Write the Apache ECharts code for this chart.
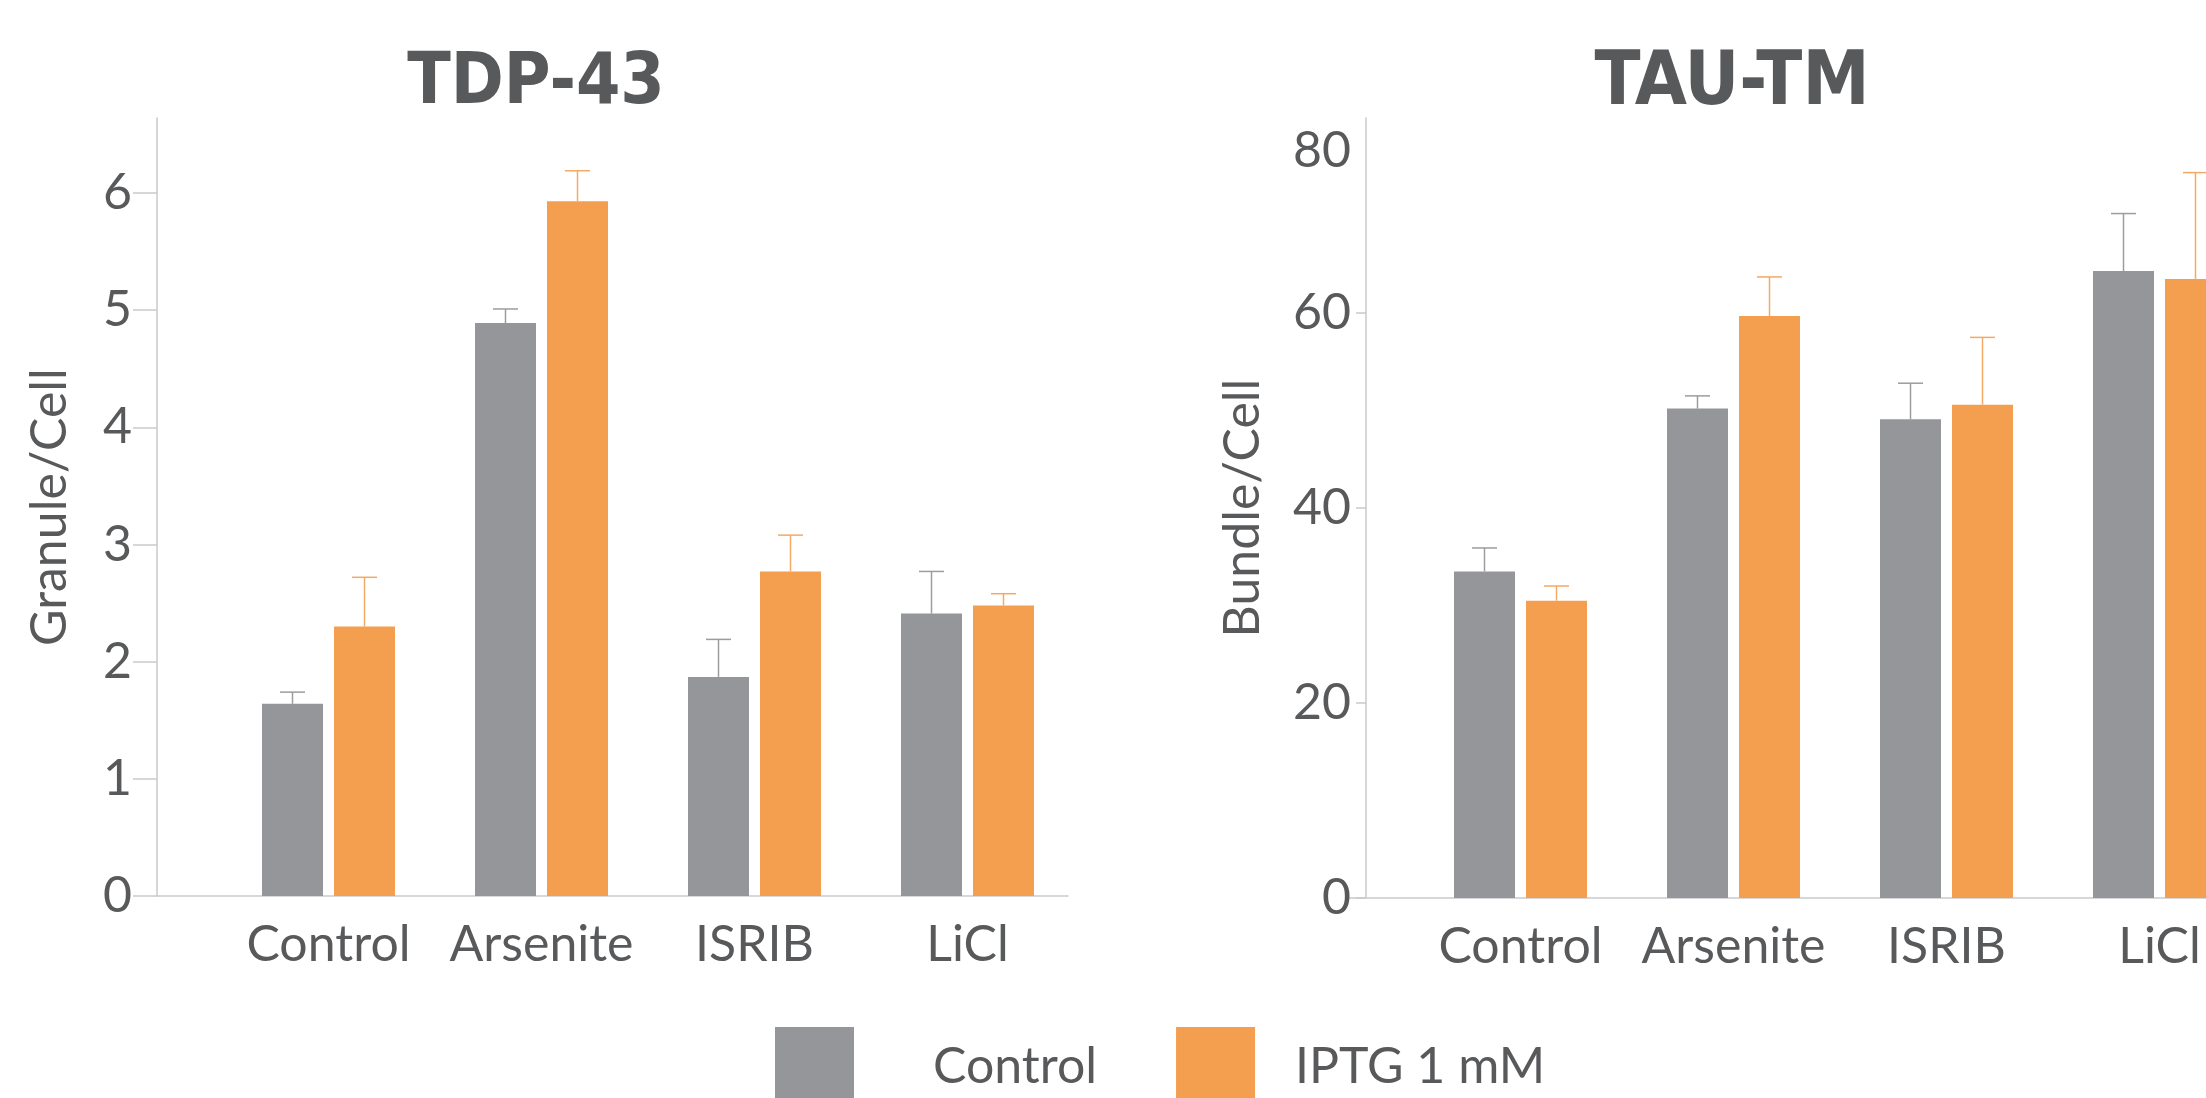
<!DOCTYPE html>
<html>
<head>
<meta charset="utf-8">
<title>TDP-43 / TAU-TM</title>
<script src="https://cdn.jsdelivr.net/npm/echarts@6/dist/echarts.min.js"></script>
<style>
	html, body { margin: 0; padding: 0; background: #fff; }
	#main { width: 2206px; height: 1098px; }
</style>
</head>
<body>
<div id="main"></div>
<script>
	// data
	var categories = ['Control', 'Arsenite', 'ISRIB', 'LiCl'];
	var groupNames = ['Control', 'IPTG 1 mM'];

	var tdpControl = [1.64, 4.89, 1.87, 2.41];
	var tdpControlErr = [0.10, 0.12, 0.32, 0.36];
	var tdpIptg = [2.30, 5.93, 2.77, 2.48];
	var tdpIptgErr = [0.42, 0.26, 0.31, 0.10];

	var tauControl = [33.5, 50.2, 49.1, 64.3];
	var tauControlErr = [2.4, 1.3, 3.7, 5.9];
	var tauIptg = [30.5, 59.7, 50.6, 63.5];
	var tauIptgErr = [1.5, 4.0, 6.9, 10.9];

	var tdpTicks = [0, 1, 2, 3, 4, 5, 6];
	var tauLabels = [0, 20, 40, 60, 80];
	var tauTicks = [0, 20, 40, 60];

	// styles
	var GRAY = '#959699', ORANGE = '#f49f50';
	var GRAY_ERR = '#9c9c9f', ORANGE_ERR = '#f4a866';
	var TEXT = '#58595b', AXIS = '#c9cacc';
	var FONT = 'Lato, "Open Sans", sans-serif';
	var TITLE_FONT = '"DejaVu Sans Condensed", "DejaVu Sans", sans-serif';
	var BAR_W = 61, BAR_GAP = 11, CAP = 25;

	function errorSeries(name, axisIdx, means, errs, side, color) {
		return {
			type: 'custom',
			name: name,
			xAxisIndex: axisIdx,
			yAxisIndex: axisIdx,
			silent: true,
			z: 3,
			encode: { x: 0, y: [1, 2] },
			data: means.map(function (m, i) { return [i, m, m + errs[i]]; }),
			renderItem: function (params, api) {
				var base = api.coord([api.value(0), api.value(1)]);
				var top = api.coord([api.value(0), api.value(2)]);
				var x = base[0] + side * (BAR_W + BAR_GAP) / 2;
				return {
					type: 'group',
					children: [
						{ type: 'line', shape: { x1: x, y1: base[1], x2: x, y2: top[1] }, style: { stroke: color, lineWidth: 1.5 } },
						{ type: 'line', shape: { x1: x - CAP / 2, y1: top[1], x2: x + CAP / 2, y2: top[1] }, style: { stroke: color, lineWidth: 1.5 } }
					]
				};
			}
		};
	}

	function barSeries(name, axisIdx, values, color) {
		return {
			type: 'bar',
			name: name,
			xAxisIndex: axisIdx,
			yAxisIndex: axisIdx,
			barWidth: BAR_W,
			barGap: (BAR_GAP / BAR_W * 100) + '%',
			itemStyle: { color: color },
			data: values
		};
	}

	function frameX(gridIdx) {
		return {
			gridIndex: gridIdx, type: 'value', min: 0, max: 1,
			axisLine: { show: true, onZero: false, lineStyle: { color: AXIS, width: 1.5 } },
			axisTick: { show: false }, axisLabel: { show: false }, splitLine: { show: false }
		};
	}

	function catX(gridIdx) {
		return {
			gridIndex: gridIdx, type: 'category', data: categories,
			axisLine: { show: false }, axisTick: { show: false },
			axisLabel: { margin: 24, fontSize: 50, color: TEXT, fontFamily: FONT, interval: 0 }
		};
	}

	function hiddenY(gridIdx, max) {
		return { gridIndex: gridIdx, type: 'value', min: 0, max: max, show: false };
	}

	var option = {
		animation: false,
		backgroundColor: '#fff',
		title: [{
			text: 'TDP-43', left: 536, top: 85, padding: 0,
			textAlign: 'center', textVerticalAlign: 'middle',
			textStyle: { fontSize: 71, fontWeight: 'bold', color: TEXT, fontFamily: TITLE_FONT }
		}, {
			text: 'TAU-TM', left: 1732, top: 85, padding: 0,
			textAlign: 'center', textVerticalAlign: 'middle',
			textStyle: { fontSize: 75, fontWeight: 'bold', color: TEXT, fontFamily: TITLE_FONT }
		}],
		legend: {
			data: groupNames,
			icon: 'rect',
			left: 775, top: 1027,
			itemWidth: 79, itemHeight: 79, itemGap: 79,
			padding: 0,
			selectedMode: false,
			formatter: function (name) {
				return name === groupNames[0] ? '{wide|' + name + '}' : '{near|' + name + '}';
			},
			textStyle: {
				fontSize: 50, color: TEXT, fontFamily: FONT,
				rich: {
					wide: { padding: [0, 0, 0, 74], fontSize: 50, color: TEXT, fontFamily: FONT },
					near: { padding: [0, 0, 0, 35], fontSize: 50, color: TEXT, fontFamily: FONT }
				}
			}
		},
		grid: [
			{ left: 157, top: 118, width: 911, height: 778, outerBoundsMode: 'none' },
			{ left: 222, top: 118, width: 852, height: 778, outerBoundsMode: 'none' },
			{ left: 1348, top: 118, right: 0, height: 780, outerBoundsMode: 'none' },
			{ left: 1414, top: 118, width: 852, height: 780, outerBoundsMode: 'none' }
		],
		xAxis: [frameX(0), catX(1), frameX(2), catX(3)],
		yAxis: [{
			gridIndex: 0, type: 'value', min: 0, max: 6.64,
			name: 'Granule/Cell', nameLocation: 'middle', nameGap: 107, nameRotate: 90,
			nameTextStyle: { fontSize: 50, color: TEXT, fontFamily: FONT, verticalAlign: 'middle' },
			axisLine: { show: true, onZero: false, lineStyle: { color: AXIS, width: 1.5 } },
			axisTick: { show: true, length: 24, customValues: tdpTicks, lineStyle: { color: AXIS, width: 1.5 } },
			axisLabel: { customValues: tdpTicks, margin: 25, fontSize: 50, color: TEXT, fontFamily: FONT },
			splitLine: { show: false }
		},
		hiddenY(1, 6.64),
		{
			gridIndex: 2, type: 'value', min: 0, max: 80, offset: -18,
			name: 'Bundle/Cell', nameLocation: 'middle', nameGap: 123, nameRotate: 90,
			nameTextStyle: { fontSize: 50, color: TEXT, fontFamily: FONT, verticalAlign: 'middle' },
			axisLine: { show: true, onZero: false, lineStyle: { color: AXIS, width: 1.5 } },
			axisTick: { show: true, length: 10, customValues: tauTicks, lineStyle: { color: AXIS, width: 1.5 } },
			axisLabel: {
				customValues: tauLabels, margin: 15, fontSize: 50, color: TEXT, fontFamily: FONT,
				formatter: function (v) { return v === 80 ? '{low|80}' : String(v); },
				rich: { low: { padding: [66, 0, 0, 0], fontSize: 50, color: TEXT, fontFamily: FONT } }
			},
			splitLine: { show: false }
		},
		hiddenY(3, 80)],
		series: [
			barSeries('Control', 1, tdpControl, GRAY),
			barSeries('IPTG 1 mM', 1, tdpIptg, ORANGE),
			errorSeries('tdp control err', 1, tdpControl, tdpControlErr, -1, GRAY_ERR),
			errorSeries('tdp iptg err', 1, tdpIptg, tdpIptgErr, 1, ORANGE_ERR),
			barSeries('Control', 3, tauControl, GRAY),
			barSeries('IPTG 1 mM', 3, tauIptg, ORANGE),
			errorSeries('tau control err', 3, tauControl, tauControlErr, -1, GRAY_ERR),
			errorSeries('tau iptg err', 3, tauIptg, tauIptgErr, 1, ORANGE_ERR)
		]
	};

	var chart = echarts.init(document.getElementById('main'));
	chart.setOption(option);
</script>
</body>
</html>
